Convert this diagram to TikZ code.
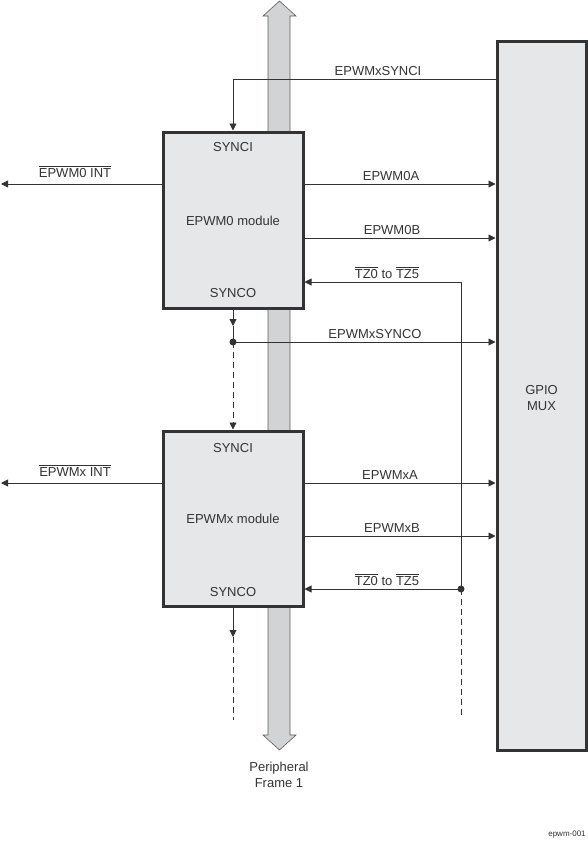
\documentclass[tikz,border=0pt]{standalone}
\usepackage{fontspec}
\setmainfont{Liberation Sans}
\usetikzlibrary{arrows.meta}
\definecolor{boxfill}{HTML}{E6E7E8}
\definecolor{busfill}{HTML}{D1D3D4}
\definecolor{ink}{HTML}{333333}
\begin{document}
\begin{tikzpicture}[x=1pt,y=-1pt,
  every node/.style={font=\fontsize{13}{15.5}\selectfont, text=ink},
  module/.style={draw=ink, line width=3pt, fill=boxfill, inner sep=0pt, minimum width=140pt},
  wire/.style={draw=ink, line width=0.9pt},
  dashwire/.style={dash pattern=on 6pt off 4pt},
  sig/.style={wire, -{Triangle[length=7pt,width=7pt]}},
  lbl/.style={anchor=base, inner sep=0pt},
  dotc/.style={circle, fill=ink, draw=none, inner sep=0pt, minimum size=7pt}]
\useasboundingbox (0,0) rectangle (588,844);
% bus
\draw[draw=ink!80, line width=0.6pt, fill=busfill]
  (268,16) -- (263,16) -- (279.5,1) -- (296,16) -- (290,16) -- (290,735)
  -- (296,735) -- (279.5,750) -- (263,735) -- (268,735) -- cycle;
% modules
\node[module, minimum height=176pt] (box1) at (233,220) {};
\node[module, minimum height=175pt] (box2) at (233,518.5) {};
\node[draw=ink, line width=3pt, fill=boxfill, inner sep=0pt, minimum width=89pt, minimum height=709pt] (gpio) at (541.5,395.5) {};
% text in boxes
\node[lbl] (t1a) at (233,151) {SYNCI};
\node[lbl] (t1b) at (233,225) {EPWM0 module};
\node[lbl] (t1c) at (233,297) {SYNCO};
\node[lbl] (t2a) at (233,452) {SYNCI};
\node[lbl] (t2b) at (233,523) {EPWMx module};
\node[lbl] (t2c) at (233,596) {SYNCO};
\node[align=center, inner sep=0pt] (gm) at (541.5,398) {GPIO\\MUX};
% level coordinates
\coordinate (ysi) at (233,79);
\coordinate (y0a) at (0,184);
\coordinate (y0b) at (0,238);
\coordinate (yxa) at (0,483);
\coordinate (yxb) at (0,536);
\coordinate (int1) at (1,184);
\coordinate (int2) at (1,483);
\coordinate (tz1) at (461,282);
\coordinate (tz2) at (461,589);
\coordinate (tzend) at (461,717);
\coordinate (a1) at (233,326);
\coordinate (a2) at (233,637);
\coordinate (send) at (233,720);
\coordinate (d1) at (233,342);
% SYNCI input
\draw[wire] (gpio.west |- ysi) -- (ysi);
\draw[sig] (ysi) -- (box1.north);
% outputs to GPIO
\draw[sig] (box1.east |- y0a) -- (gpio.west |- y0a);
\draw[sig] (box1.east |- y0b) -- (gpio.west |- y0b);
\draw[sig] (box2.east |- yxa) -- (gpio.west |- yxa);
\draw[sig] (box2.east |- yxb) -- (gpio.west |- yxb);
% interrupts
\draw[sig] (box1.west |- y0a) -- (int1);
\draw[sig] (box2.west |- yxa) -- (int2);
% TZ
\draw[wire] (tz1) -- (tz2);
\draw[wire, dashwire] (tz2) -- (tzend);
\draw[sig] (tz1) -- (box1.east |- tz1);
\draw[sig] (tz2) -- (box2.east |- tz2);
% SYNCO chain
\draw[sig] (box1.south) -- (a1);
\draw[wire] (a1) -- (d1);
\draw[sig] (d1) -- (gpio.west |- d1);
\draw[sig, dashwire] (d1) -- (box2.north);
\draw[sig] (box2.south) -- (a2);
\draw[wire, dashwire] (a2) -- (send);
% junction dots
\node[dotc] (dot1) at (d1) {};
\node[dotc] (dot2) at (tz2) {};
% labels
\node[lbl] (lsi) at (378,75) {EPWMxSYNCI};
\node[lbl] (l0a) at (391,180) {EPWM0A};
\node[lbl] (l0b) at (392,234) {EPWM0B};
\node[lbl] (ltz1) at (387,278) {$\overline{\mbox{TZ0}}$ to $\overline{\mbox{TZ5}}$};
\node[lbl] (lso) at (375,338) {EPWMxSYNCO};
\node[lbl] (lxa) at (390,479) {EPWMxA};
\node[lbl] (lxb) at (392,532) {EPWMxB};
\node[lbl] (ltz2) at (387,585) {$\overline{\mbox{TZ0}}$ to $\overline{\mbox{TZ5}}$};
\node[lbl] (li0) at (75,177) {$\overline{\mbox{EPWM0 INT}}$};
\node[lbl] (lix) at (75,476) {$\overline{\mbox{EPWMx INT}}$};
\node[align=center, inner sep=0pt] (pf) at (279,775) {Peripheral\\Frame 1};
\node[inner sep=0pt, font=\fontsize{8}{10}\selectfont] (ep) at (567,835) {epwm-001};
\end{tikzpicture}
\end{document}
